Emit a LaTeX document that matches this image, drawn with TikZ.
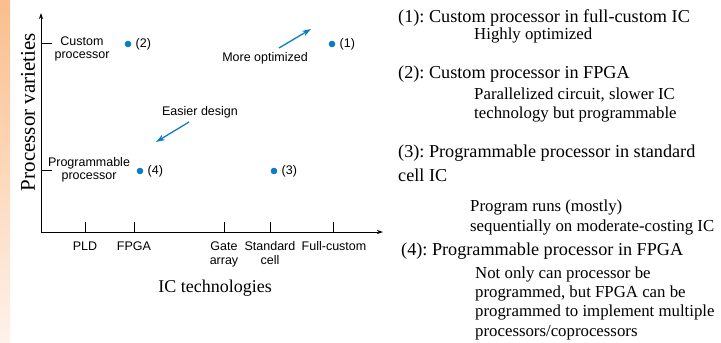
\documentclass[tikz,border=0pt]{standalone}
\usepackage{fontspec}
\setmainfont{Liberation Serif}
\newfontfamily\labfont{Liberation Sans}
\usetikzlibrary{arrows.meta}
\definecolor{ptblue}{RGB}{12,124,196}
\definecolor{stripA}{RGB}{251,190,140}
\definecolor{stripB}{RGB}{254,242,234}
\frenchspacing
\tikzset{
  lab/.style={font=\labfont\fontsize{12.5}{14}\selectfont, inner sep=0pt, align=center},
  ptdot/.style={circle, fill=ptblue, inner sep=0pt, minimum size=6.6pt},
  ptlab/.style={font=\labfont\fontsize{12.5}{14}\selectfont, inner sep=0pt, anchor=west},
  axis/.style={line width=0.8pt, -{Stealth[length=6pt,width=4pt]}},
  tick/.style={line width=0.8pt},
  trend/.style={ptblue, line width=1.3pt, -{Stealth[length=9pt,width=6pt]}},
  head/.style={font=\fontsize{18.2}{20}\selectfont, inner sep=0pt, anchor=base west},
  sub/.style={font=\fontsize{16.8}{19}\selectfont, inner sep=0pt, anchor=base west},
  axlab/.style={font=\fontsize{18}{20}\selectfont, inner sep=0pt}
}
\begin{document}
\begin{tikzpicture}[x=1pt,y=-1pt]
\useasboundingbox (0,0) rectangle (721,343);
\shade[top color=stripA, bottom color=stripB] (0,0) rectangle (10,343);
% axes
\coordinate (O) at (41,232);
\coordinate (ytop) at (41,13);
\coordinate (xend) at (383,232);
\draw[axis] (O) -- (ytop);
\draw[axis] (O) -- (xend);
% y ticks
\coordinate (yt1a) at (41,43); \coordinate (yt1b) at (52,43);
\coordinate (yt2a) at (41,170); \coordinate (yt2b) at (52,170);
\draw[tick] (yt1a) -- (yt1b);
\draw[tick] (yt2a) -- (yt2b);
% x ticks
\foreach \n/\x in {pld/85,fpga/134,gate/224,std/270,full/333}{
  \coordinate (xt\n a) at (\x,232); \coordinate (xt\n b) at (\x,222);
  \draw[tick] (xt\n a) -- (xt\n b);
}
% y labels
\node[lab] (custom) at (82,48.5) {Custom\\[-1pt]processor};
\node[lab] (prog) at (89,169.5) {Programmable\\[-1pt]processor};
% x labels
\node[lab, anchor=base] (lpld) at (85,250) {PLD};
\node[lab, anchor=base] (lfpga) at (134,250) {FPGA};
\node[lab, anchor=base] (lgate) at (224,250) {Gate};
\node[lab, anchor=base] (lgate2) at (224,264) {array};
\node[lab, anchor=base] (lstd) at (270,250) {Standard};
\node[lab, anchor=base] (lstd2) at (270,264) {cell};
\node[lab, anchor=base] (lfull) at (334,250) {Full-custom};
% axis titles
\node[axlab] (xtitle) at (215,288) {IC technologies};
\node[axlab, font=\fontsize{21}{22}\selectfont, rotate=90] (ytitle) at (28,112) {Processor varieties};
% points
\node[ptdot] (p1) at (332,44) {};
\node[ptdot] (p2) at (128,44) {};
\node[ptdot] (p3) at (274,171) {};
\node[ptdot] (p4) at (140,171) {};
\node[ptlab] (l1) at ([xshift=4pt]p1.east) {(1)};
\node[ptlab] (l2) at ([xshift=4pt]p2.east) {(2)};
\node[ptlab] (l3) at ([xshift=4pt]p3.east) {(3)};
\node[ptlab] (l4) at ([xshift=4pt]p4.east) {(4)};
% trends
\node[lab] (mo) at (265,58) {More optimized};
\node[lab] (ed) at (200,112) {Easier design};
\coordinate (moa) at (279,48); \coordinate (mob) at (311,29);
\coordinate (eda) at (189,122); \coordinate (edb) at (156,142);
\draw[trend] (moa) -- (mob);
\draw[trend] (eda) -- (edb);
% right text
\node[head] (h1) at (398,22) {(1): Custom processor in full-custom IC};
\node[sub] (s1a) at (474,39) {Highly optimized};
\node[head] (h2) at (398,78) {(2): Custom processor in FPGA};
\node[sub] (s2a) at (474,99) {Parallelized circuit, slower IC};
\node[sub] (s2b) at (474,118) {technology but programmable};
\node[head] (h3) at (398,157) {(3): Programmable processor in standard};
\node[head] (h3b) at (398,181) {cell IC};
\node[sub] (s3a) at (470,211) {Program runs (mostly)};
\node[sub] (s3b) at (470,231) {sequentially on moderate-costing IC};
\node[head] (h4) at (401,255) {(4): Programmable processor in FPGA};
\node[sub] (s4a) at (475,278) {Not only can processor be};
\node[sub] (s4b) at (475,297) {programmed, but FPGA can be};
\node[sub] (s4c) at (475,316) {programmed to implement multiple};
\node[sub] (s4d) at (475,336) {processors/coprocessors};
\end{tikzpicture}
\end{document}
